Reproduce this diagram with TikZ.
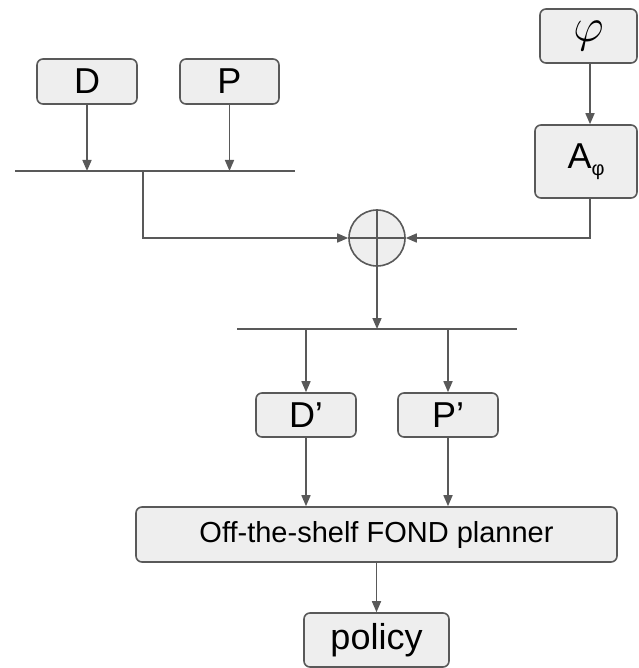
\documentclass[tikz,border=0pt]{standalone}
\usepackage{fontspec}
\setmainfont{Liberation Sans}
\usepackage{tikz}
\usetikzlibrary{arrows.meta, positioning}
\definecolor{linegray}{HTML}{595959}
\definecolor{boxgray}{HTML}{EEEEEE}

\begin{document}
\begin{tikzpicture}[x=1pt, y=-1pt,
    blk/.style={draw=linegray, fill=boxgray, line width=1.6pt, rounded corners=6pt,
        inner sep=0pt, font=\fontsize{36}{40}\selectfont},
    wire/.style={draw=linegray, line width=1.6pt},
    flow/.style={wire, -{Triangle[length=11pt, width=9pt]}}]
    \useasboundingbox (0,0) rectangle (638,668);

    % Inputs
    \node[blk, minimum width=100pt, minimum height=45pt] (dom) at (87,81.5) {D};
    \node[blk, minimum width=99pt, minimum height=45pt] (prob) at (229.5,81.5) {P};
    \node[blk, minimum width=97pt, minimum height=54pt] (phi) at (588.5,36)
        {\scalebox{1.9}{$\varphi$}};
    \node[blk, minimum width=102pt, minimum height=73pt] (aut) at (586,161.5)
        {A\raisebox{-7pt}{\fontsize{20}{20}\selectfont φ}};

    % Product
    \node[draw=linegray, fill=boxgray, line width=1.6pt, circle, minimum size=56pt,
        inner sep=0pt] (sum) at (377,238) {};
    \draw[wire] (sum.north) -- (sum.south);
    \draw[wire] (sum.west) -- (sum.east);

    % Outputs
    \node[blk, minimum width=100pt, minimum height=44pt] (dom2) at (306,415) {D’};
    \node[blk, minimum width=100pt, minimum height=44pt] (prob2) at (448,415) {P’};
    \node[blk, minimum width=481pt, minimum height=55pt, font=\fontsize{29}{32}\selectfont]
        (fond) at (376.5,534.5) {Off-the-shelf FOND planner};
    \node[blk, minimum width=145pt, minimum height=54pt] (pol) at (376.5,640) {policy};

    % Bars
    \coordinate (barA) at (15,171);
    \coordinate (barB) at (295,171);
    \coordinate (barC) at (237,329);
    \coordinate (barD) at (517,329);
    \coordinate (tap) at (143,171);
    \draw[wire] (barA) -- (barB);
    \draw[wire] (barC) -- (barD);

    % Connectors
    \draw[flow] (dom.south) -- (dom.south |- barA);
    \draw[flow] (prob.south) -- (prob.south |- barA);
    \draw[flow] (tap) |- (sum.west);
    \draw[flow] (phi.south -| 590,0) -- (aut.north -| 590,0);
    \draw[flow] (aut.south -| 590,0) |- (sum.east);
    \draw[flow] (sum.south) -- (sum.south |- barC);
    \draw[flow] (barC -| dom2.north) -- (dom2.north);
    \draw[flow] (barC -| prob2.north) -- (prob2.north);
    \draw[flow] (dom2.south) -- (dom2.south |- fond.north);
    \draw[flow] (prob2.south) -- (prob2.south |- fond.north);
    \draw[flow] (fond.south -| pol.north) -- (pol.north);
\end{tikzpicture}
\end{document}
